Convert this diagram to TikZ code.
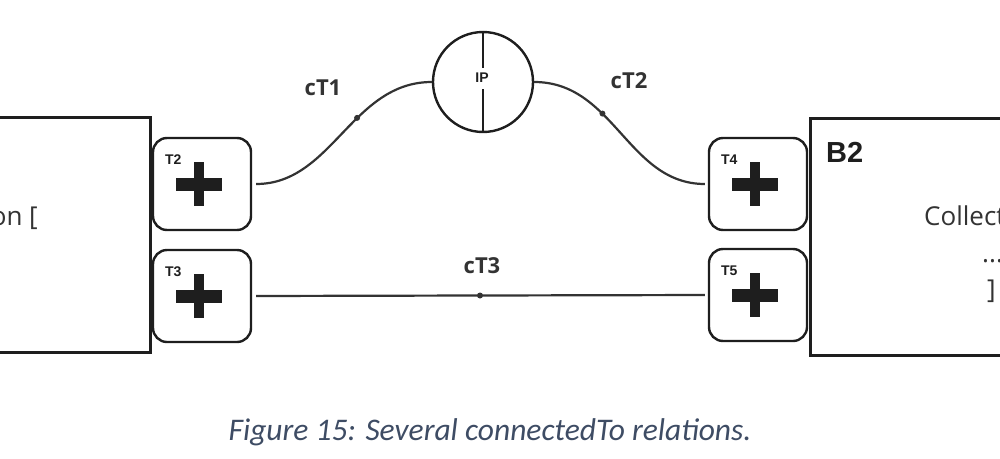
\documentclass[tikz,border=0pt]{standalone}
\usepackage{fontspec}
\setmainfont{Open Sans}
\newfontfamily\arialf{Liberation Sans}
\newfontfamily\capf{Carlito}
\definecolor{ink}{HTML}{1E1E1E}
\definecolor{txt}{HTML}{333333}
\definecolor{captc}{HTML}{3E4C64}
\begin{document}
\begin{tikzpicture}[x=1pt,y=-1pt,
  mainbox/.style={draw=ink,line width=3pt,fill=white,inner sep=0pt},
  port/.style={draw=ink,line width=2.4pt,rounded corners=14pt,fill=white,minimum width=98pt,minimum height=92pt,inner sep=0pt},
  conn/.style={draw=txt,line width=2.2pt},
  dotn/.style={circle,fill=txt,inner sep=0pt,minimum size=6pt},
  clab/.style={font=\fontsize{22}{24}\selectfont\bfseries,text=txt},
  plab/.style={font=\arialf\fontsize{14}{15}\selectfont\bfseries,text=ink},
  btxt/.style={font=\fontsize{26}{28}\selectfont,text=txt}]
\useasboundingbox (0,0) rectangle (1000,458);
\clip (0,0) rectangle (1000,458);
% main blocks
\node[mainbox,minimum width=220pt,minimum height=235pt] (B1) at (40,234.5) {};
\node[mainbox,minimum width=250pt,minimum height=237pt] (B2) at (935,236.5) {};
% ports
\node[port] (T2) at (202,184) {};
\node[port] (T3) at (202,296) {};
\node[port] (T4) at (758,184) {};
\node[port] (T5) at (758,295) {};
\foreach \p in {T2,T3,T4,T5}{
  \fill[ink] ([shift={(-26,-6.5)}]\p.center) rectangle ([shift={(20,6.5)}]\p.center);
  \fill[ink] ([shift={(-8,-22)}]\p.center) rectangle ([shift={(2,22)}]\p.center);
}
\node[plab] (l2) at ([shift={(21.5,22.5)}]T2.north west) {T2};
\node[plab] (l3) at ([shift={(21.5,22.5)}]T3.north west) {T3};
\node[plab] (l4) at ([shift={(21.5,22.5)}]T4.north west) {T4};
\node[plab] (l5) at ([shift={(21.5,22.5)}]T5.north west) {T5};
% IP
\node[circle,draw=ink,line width=2.4pt,minimum size=100pt,inner sep=0pt] (ip) at (483,82) {};
\node[plab] (iplab) at (482,78) {IP};
\draw[ink,line width=2.4pt] (ip.north) -- (483,68);
\draw[ink,line width=2.4pt] (483,89) -- (ip.south);
% connectors
\draw[conn,shorten <=4pt] (T2.east) .. controls +(80,0) and +(-80,0) .. (ip.west) node[dotn,pos=0.6] (d1) {};
\draw[conn,shorten >=3pt] (ip.east) .. controls +(80,0) and +(-80,0) .. (T4.west) node[dotn,pos=0.37] (d2) {};
\draw[conn,shorten <=4pt,shorten >=3pt] (T3.east) -- (T5.west) node[dotn,midway] (d3) {};
\node[clab] (c1) at (323,88) {cT1};
\node[clab] (c2) at (629,81) {cT2};
\node[clab] (c3) at (482,266) {cT3};
% block texts
\node[btxt,anchor=base east,inner sep=0pt] (t1) at (38,225) {on [};
\node[font=\arialf\fontsize{29}{31}\selectfont\bfseries,text=ink,anchor=north west,inner sep=0pt] (b2t) at (826,142) {B2};
\node[btxt,anchor=base west,inner sep=0pt] (t2) at (924,225) {Collect};
\node[btxt,anchor=base west,inner sep=0pt] (t3) at (982,262) {...};
\node[btxt,anchor=base west,inner sep=0pt] (t4) at (987,298) {]};
% caption
\node[font=\capf\itshape\fontsize{31.5}{34}\selectfont,text=captc] (cap) at (490,432) {Figure 15: Several connectedTo relations.};
\end{tikzpicture}
\end{document}
